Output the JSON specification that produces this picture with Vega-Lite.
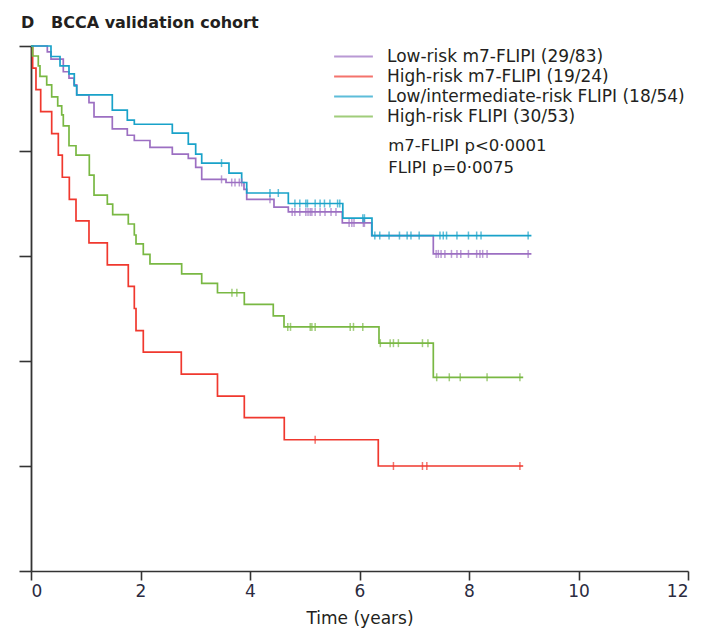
{
  "$schema": "https://vega.github.io/schema/vega-lite/v6.json",
  "width": 657,
  "height": 525,
  "autosize": {"type": "none"},
  "padding": {"left": 31, "top": 46, "right": 15, "bottom": 58},
  "background": "white",
  "title": {
    "text": "D\u00a0\u00a0\u00a0BCCA validation cohort",
    "anchor": "start",
    "frame": "group",
    "dx": -10,
    "offset": -1,
    "baseline": "alphabetic",
    "font": "DejaVu Sans",
    "fontSize": 16,
    "fontWeight": "bold",
    "color": "#231f20"
  },
  "config": {
    "view": {"stroke": null},
    "font": "DejaVu Sans"
  },
  "datasets": {
    "curves": [
      {"g": "Low-risk m7-FLIPI (29/83)", "t": 0, "s": 1},
      {"g": "Low-risk m7-FLIPI (29/83)", "t": 0.298, "s": 0.989},
      {"g": "Low-risk m7-FLIPI (29/83)", "t": 0.365, "s": 0.975},
      {"g": "Low-risk m7-FLIPI (29/83)", "t": 0.59, "s": 0.951},
      {"g": "Low-risk m7-FLIPI (29/83)", "t": 0.694, "s": 0.939},
      {"g": "Low-risk m7-FLIPI (29/83)", "t": 0.785, "s": 0.926},
      {"g": "Low-risk m7-FLIPI (29/83)", "t": 0.835, "s": 0.907},
      {"g": "Low-risk m7-FLIPI (29/83)", "t": 1.059, "s": 0.892},
      {"g": "Low-risk m7-FLIPI (29/83)", "t": 1.151, "s": 0.865},
      {"g": "Low-risk m7-FLIPI (29/83)", "t": 1.485, "s": 0.842},
      {"g": "Low-risk m7-FLIPI (29/83)", "t": 1.759, "s": 0.83},
      {"g": "Low-risk m7-FLIPI (29/83)", "t": 1.887, "s": 0.82},
      {"g": "Low-risk m7-FLIPI (29/83)", "t": 2.173, "s": 0.807},
      {"g": "Low-risk m7-FLIPI (29/83)", "t": 2.581, "s": 0.794},
      {"g": "Low-risk m7-FLIPI (29/83)", "t": 2.873, "s": 0.786},
      {"g": "Low-risk m7-FLIPI (29/83)", "t": 3.008, "s": 0.769},
      {"g": "Low-risk m7-FLIPI (29/83)", "t": 3.118, "s": 0.746},
      {"g": "Low-risk m7-FLIPI (29/83)", "t": 3.562, "s": 0.74},
      {"g": "Low-risk m7-FLIPI (29/83)", "t": 3.89, "s": 0.727},
      {"g": "Low-risk m7-FLIPI (29/83)", "t": 3.94, "s": 0.708},
      {"g": "Low-risk m7-FLIPI (29/83)", "t": 4.438, "s": 0.693},
      {"g": "Low-risk m7-FLIPI (29/83)", "t": 4.7, "s": 0.684},
      {"g": "Low-risk m7-FLIPI (29/83)", "t": 5.686, "s": 0.663},
      {"g": "Low-risk m7-FLIPI (29/83)", "t": 6.223, "s": 0.639},
      {"g": "Low-risk m7-FLIPI (29/83)", "t": 7.348, "s": 0.604},
      {"g": "Low-risk m7-FLIPI (29/83)", "t": 9.14, "s": 0.604},
      {"g": "High-risk m7-FLIPI (19/24)", "t": 0, "s": 1},
      {"g": "High-risk m7-FLIPI (19/24)", "t": 0.03, "s": 0.958},
      {"g": "High-risk m7-FLIPI (19/24)", "t": 0.091, "s": 0.917},
      {"g": "High-risk m7-FLIPI (19/24)", "t": 0.177, "s": 0.875},
      {"g": "High-risk m7-FLIPI (19/24)", "t": 0.378, "s": 0.833},
      {"g": "High-risk m7-FLIPI (19/24)", "t": 0.499, "s": 0.792},
      {"g": "High-risk m7-FLIPI (19/24)", "t": 0.572, "s": 0.75},
      {"g": "High-risk m7-FLIPI (19/24)", "t": 0.7, "s": 0.708},
      {"g": "High-risk m7-FLIPI (19/24)", "t": 0.822, "s": 0.667},
      {"g": "High-risk m7-FLIPI (19/24)", "t": 1.059, "s": 0.625},
      {"g": "High-risk m7-FLIPI (19/24)", "t": 1.394, "s": 0.583},
      {"g": "High-risk m7-FLIPI (19/24)", "t": 1.777, "s": 0.542},
      {"g": "High-risk m7-FLIPI (19/24)", "t": 1.887, "s": 0.5},
      {"g": "High-risk m7-FLIPI (19/24)", "t": 1.918, "s": 0.458},
      {"g": "High-risk m7-FLIPI (19/24)", "t": 2.051, "s": 0.417},
      {"g": "High-risk m7-FLIPI (19/24)", "t": 2.745, "s": 0.375},
      {"g": "High-risk m7-FLIPI (19/24)", "t": 3.406, "s": 0.333},
      {"g": "High-risk m7-FLIPI (19/24)", "t": 3.896, "s": 0.292},
      {"g": "High-risk m7-FLIPI (19/24)", "t": 4.626, "s": 0.25},
      {"g": "High-risk m7-FLIPI (19/24)", "t": 6.343, "s": 0.2},
      {"g": "High-risk m7-FLIPI (19/24)", "t": 8.99, "s": 0.2},
      {"g": "High-risk FLIPI (30/53)", "t": 0, "s": 1},
      {"g": "High-risk FLIPI (30/53)", "t": 0.03, "s": 0.981},
      {"g": "High-risk FLIPI (30/53)", "t": 0.133, "s": 0.962},
      {"g": "High-risk FLIPI (30/53)", "t": 0.164, "s": 0.942},
      {"g": "High-risk FLIPI (30/53)", "t": 0.287, "s": 0.926},
      {"g": "High-risk FLIPI (30/53)", "t": 0.378, "s": 0.903},
      {"g": "High-risk FLIPI (30/53)", "t": 0.488, "s": 0.886},
      {"g": "High-risk FLIPI (30/53)", "t": 0.561, "s": 0.869},
      {"g": "High-risk FLIPI (30/53)", "t": 0.59, "s": 0.848},
      {"g": "High-risk FLIPI (30/53)", "t": 0.694, "s": 0.81},
      {"g": "High-risk FLIPI (30/53)", "t": 0.822, "s": 0.792},
      {"g": "High-risk FLIPI (30/53)", "t": 1.065, "s": 0.754},
      {"g": "High-risk FLIPI (30/53)", "t": 1.151, "s": 0.716},
      {"g": "High-risk FLIPI (30/53)", "t": 1.394, "s": 0.699},
      {"g": "High-risk FLIPI (30/53)", "t": 1.492, "s": 0.679},
      {"g": "High-risk FLIPI (30/53)", "t": 1.777, "s": 0.661},
      {"g": "High-risk FLIPI (30/53)", "t": 1.887, "s": 0.64},
      {"g": "High-risk FLIPI (30/53)", "t": 1.918, "s": 0.623},
      {"g": "High-risk FLIPI (30/53)", "t": 2.051, "s": 0.603},
      {"g": "High-risk FLIPI (30/53)", "t": 2.173, "s": 0.585},
      {"g": "High-risk FLIPI (30/53)", "t": 2.752, "s": 0.566},
      {"g": "High-risk FLIPI (30/53)", "t": 3.118, "s": 0.548},
      {"g": "High-risk FLIPI (30/53)", "t": 3.406, "s": 0.53},
      {"g": "High-risk FLIPI (30/53)", "t": 3.896, "s": 0.508},
      {"g": "High-risk FLIPI (30/53)", "t": 4.425, "s": 0.486},
      {"g": "High-risk FLIPI (30/53)", "t": 4.621, "s": 0.465},
      {"g": "High-risk FLIPI (30/53)", "t": 6.356, "s": 0.434},
      {"g": "High-risk FLIPI (30/53)", "t": 7.348, "s": 0.369},
      {"g": "High-risk FLIPI (30/53)", "t": 8.99, "s": 0.369},
      {"g": "Low/intermediate-risk FLIPI (18/54)", "t": 0, "s": 1},
      {"g": "Low/intermediate-risk FLIPI (18/54)", "t": 0.365, "s": 0.98},
      {"g": "Low/intermediate-risk FLIPI (18/54)", "t": 0.53, "s": 0.962},
      {"g": "Low/intermediate-risk FLIPI (18/54)", "t": 0.694, "s": 0.947},
      {"g": "Low/intermediate-risk FLIPI (18/54)", "t": 0.791, "s": 0.924},
      {"g": "Low/intermediate-risk FLIPI (18/54)", "t": 0.835, "s": 0.907},
      {"g": "Low/intermediate-risk FLIPI (18/54)", "t": 1.485, "s": 0.878},
      {"g": "Low/intermediate-risk FLIPI (18/54)", "t": 1.759, "s": 0.859},
      {"g": "Low/intermediate-risk FLIPI (18/54)", "t": 1.887, "s": 0.851},
      {"g": "Low/intermediate-risk FLIPI (18/54)", "t": 2.581, "s": 0.834},
      {"g": "Low/intermediate-risk FLIPI (18/54)", "t": 2.873, "s": 0.813},
      {"g": "Low/intermediate-risk FLIPI (18/54)", "t": 3.008, "s": 0.794},
      {"g": "Low/intermediate-risk FLIPI (18/54)", "t": 3.118, "s": 0.777},
      {"g": "Low/intermediate-risk FLIPI (18/54)", "t": 3.616, "s": 0.758},
      {"g": "Low/intermediate-risk FLIPI (18/54)", "t": 3.848, "s": 0.74},
      {"g": "Low/intermediate-risk FLIPI (18/54)", "t": 3.94, "s": 0.72},
      {"g": "Low/intermediate-risk FLIPI (18/54)", "t": 4.7, "s": 0.7},
      {"g": "Low/intermediate-risk FLIPI (18/54)", "t": 5.695, "s": 0.672},
      {"g": "Low/intermediate-risk FLIPI (18/54)", "t": 6.228, "s": 0.639},
      {"g": "Low/intermediate-risk FLIPI (18/54)", "t": 9.14, "s": 0.639}
    ],
    "censors": [
      {"g": "Low-risk m7-FLIPI (29/83)", "t": 3.48, "s": 0.746},
      {"g": "Low-risk m7-FLIPI (29/83)", "t": 3.666, "s": 0.74},
      {"g": "Low-risk m7-FLIPI (29/83)", "t": 3.726, "s": 0.74},
      {"g": "Low-risk m7-FLIPI (29/83)", "t": 3.805, "s": 0.74},
      {"g": "Low-risk m7-FLIPI (29/83)", "t": 3.849, "s": 0.74},
      {"g": "Low-risk m7-FLIPI (29/83)", "t": 4.365, "s": 0.708},
      {"g": "Low-risk m7-FLIPI (29/83)", "t": 4.77, "s": 0.684},
      {"g": "Low-risk m7-FLIPI (29/83)", "t": 4.82, "s": 0.684},
      {"g": "Low-risk m7-FLIPI (29/83)", "t": 4.91, "s": 0.684},
      {"g": "Low-risk m7-FLIPI (29/83)", "t": 5.02, "s": 0.684},
      {"g": "Low-risk m7-FLIPI (29/83)", "t": 5.06, "s": 0.684},
      {"g": "Low-risk m7-FLIPI (29/83)", "t": 5.1, "s": 0.684},
      {"g": "Low-risk m7-FLIPI (29/83)", "t": 5.13, "s": 0.684},
      {"g": "Low-risk m7-FLIPI (29/83)", "t": 5.19, "s": 0.684},
      {"g": "Low-risk m7-FLIPI (29/83)", "t": 5.28, "s": 0.684},
      {"g": "Low-risk m7-FLIPI (29/83)", "t": 5.37, "s": 0.684},
      {"g": "Low-risk m7-FLIPI (29/83)", "t": 5.48, "s": 0.684},
      {"g": "Low-risk m7-FLIPI (29/83)", "t": 5.57, "s": 0.684},
      {"g": "Low-risk m7-FLIPI (29/83)", "t": 5.81, "s": 0.663},
      {"g": "Low-risk m7-FLIPI (29/83)", "t": 5.86, "s": 0.663},
      {"g": "Low-risk m7-FLIPI (29/83)", "t": 5.9, "s": 0.663},
      {"g": "Low-risk m7-FLIPI (29/83)", "t": 6.07, "s": 0.663},
      {"g": "Low-risk m7-FLIPI (29/83)", "t": 6.09, "s": 0.663},
      {"g": "Low-risk m7-FLIPI (29/83)", "t": 7.4, "s": 0.604},
      {"g": "Low-risk m7-FLIPI (29/83)", "t": 7.44, "s": 0.604},
      {"g": "Low-risk m7-FLIPI (29/83)", "t": 7.49, "s": 0.604},
      {"g": "Low-risk m7-FLIPI (29/83)", "t": 7.56, "s": 0.604},
      {"g": "Low-risk m7-FLIPI (29/83)", "t": 7.68, "s": 0.604},
      {"g": "Low-risk m7-FLIPI (29/83)", "t": 7.78, "s": 0.604},
      {"g": "Low-risk m7-FLIPI (29/83)", "t": 7.85, "s": 0.604},
      {"g": "Low-risk m7-FLIPI (29/83)", "t": 7.99, "s": 0.604},
      {"g": "Low-risk m7-FLIPI (29/83)", "t": 8.14, "s": 0.604},
      {"g": "Low-risk m7-FLIPI (29/83)", "t": 8.2, "s": 0.604},
      {"g": "Low-risk m7-FLIPI (29/83)", "t": 8.25, "s": 0.604},
      {"g": "Low-risk m7-FLIPI (29/83)", "t": 8.33, "s": 0.604},
      {"g": "Low-risk m7-FLIPI (29/83)", "t": 9.08, "s": 0.604},
      {"g": "High-risk m7-FLIPI (19/24)", "t": 5.19, "s": 0.25},
      {"g": "High-risk m7-FLIPI (19/24)", "t": 6.62, "s": 0.2},
      {"g": "High-risk m7-FLIPI (19/24)", "t": 7.15, "s": 0.2},
      {"g": "High-risk m7-FLIPI (19/24)", "t": 7.23, "s": 0.2},
      {"g": "High-risk m7-FLIPI (19/24)", "t": 8.93, "s": 0.2},
      {"g": "High-risk FLIPI (30/53)", "t": 3.67, "s": 0.53},
      {"g": "High-risk FLIPI (30/53)", "t": 3.76, "s": 0.53},
      {"g": "High-risk FLIPI (30/53)", "t": 4.69, "s": 0.465},
      {"g": "High-risk FLIPI (30/53)", "t": 4.74, "s": 0.465},
      {"g": "High-risk FLIPI (30/53)", "t": 5.1, "s": 0.465},
      {"g": "High-risk FLIPI (30/53)", "t": 5.13, "s": 0.465},
      {"g": "High-risk FLIPI (30/53)", "t": 5.19, "s": 0.465},
      {"g": "High-risk FLIPI (30/53)", "t": 5.83, "s": 0.465},
      {"g": "High-risk FLIPI (30/53)", "t": 5.89, "s": 0.465},
      {"g": "High-risk FLIPI (30/53)", "t": 6.06, "s": 0.465},
      {"g": "High-risk FLIPI (30/53)", "t": 6.38, "s": 0.434},
      {"g": "High-risk FLIPI (30/53)", "t": 6.56, "s": 0.434},
      {"g": "High-risk FLIPI (30/53)", "t": 6.62, "s": 0.434},
      {"g": "High-risk FLIPI (30/53)", "t": 6.71, "s": 0.434},
      {"g": "High-risk FLIPI (30/53)", "t": 7.15, "s": 0.434},
      {"g": "High-risk FLIPI (30/53)", "t": 7.25, "s": 0.434},
      {"g": "High-risk FLIPI (30/53)", "t": 7.41, "s": 0.369},
      {"g": "High-risk FLIPI (30/53)", "t": 7.64, "s": 0.369},
      {"g": "High-risk FLIPI (30/53)", "t": 7.84, "s": 0.369},
      {"g": "High-risk FLIPI (30/53)", "t": 8.33, "s": 0.369},
      {"g": "High-risk FLIPI (30/53)", "t": 8.93, "s": 0.369},
      {"g": "Low/intermediate-risk FLIPI (18/54)", "t": 3.48, "s": 0.777},
      {"g": "Low/intermediate-risk FLIPI (18/54)", "t": 4.365, "s": 0.72},
      {"g": "Low/intermediate-risk FLIPI (18/54)", "t": 4.517, "s": 0.72},
      {"g": "Low/intermediate-risk FLIPI (18/54)", "t": 4.82, "s": 0.7},
      {"g": "Low/intermediate-risk FLIPI (18/54)", "t": 4.91, "s": 0.7},
      {"g": "Low/intermediate-risk FLIPI (18/54)", "t": 5.02, "s": 0.7},
      {"g": "Low/intermediate-risk FLIPI (18/54)", "t": 5.05, "s": 0.7},
      {"g": "Low/intermediate-risk FLIPI (18/54)", "t": 5.19, "s": 0.7},
      {"g": "Low/intermediate-risk FLIPI (18/54)", "t": 5.28, "s": 0.7},
      {"g": "Low/intermediate-risk FLIPI (18/54)", "t": 5.36, "s": 0.7},
      {"g": "Low/intermediate-risk FLIPI (18/54)", "t": 5.46, "s": 0.7},
      {"g": "Low/intermediate-risk FLIPI (18/54)", "t": 5.6, "s": 0.7},
      {"g": "Low/intermediate-risk FLIPI (18/54)", "t": 5.64, "s": 0.7},
      {"g": "Low/intermediate-risk FLIPI (18/54)", "t": 6.06, "s": 0.672},
      {"g": "Low/intermediate-risk FLIPI (18/54)", "t": 6.09, "s": 0.672},
      {"g": "Low/intermediate-risk FLIPI (18/54)", "t": 6.28, "s": 0.639},
      {"g": "Low/intermediate-risk FLIPI (18/54)", "t": 6.37, "s": 0.639},
      {"g": "Low/intermediate-risk FLIPI (18/54)", "t": 6.54, "s": 0.639},
      {"g": "Low/intermediate-risk FLIPI (18/54)", "t": 6.73, "s": 0.639},
      {"g": "Low/intermediate-risk FLIPI (18/54)", "t": 6.87, "s": 0.639},
      {"g": "Low/intermediate-risk FLIPI (18/54)", "t": 6.94, "s": 0.639},
      {"g": "Low/intermediate-risk FLIPI (18/54)", "t": 7.09, "s": 0.639},
      {"g": "Low/intermediate-risk FLIPI (18/54)", "t": 7.47, "s": 0.639},
      {"g": "Low/intermediate-risk FLIPI (18/54)", "t": 7.53, "s": 0.639},
      {"g": "Low/intermediate-risk FLIPI (18/54)", "t": 7.59, "s": 0.639},
      {"g": "Low/intermediate-risk FLIPI (18/54)", "t": 7.78, "s": 0.639},
      {"g": "Low/intermediate-risk FLIPI (18/54)", "t": 7.99, "s": 0.639},
      {"g": "Low/intermediate-risk FLIPI (18/54)", "t": 8.14, "s": 0.639},
      {"g": "Low/intermediate-risk FLIPI (18/54)", "t": 8.22, "s": 0.639},
      {"g": "Low/intermediate-risk FLIPI (18/54)", "t": 9.08, "s": 0.639}
    ],
    "notes": [
      {"label": "m7-FLIPI p<0·0001\nFLIPI p=0·0075"}
    ]
  },
  "layer": [
    {
      "data": {"name": "curves"},
      "mark": {"type": "line", "interpolate": "step-after", "strokeWidth": 1.7},
      "encoding": {
        "x": {
          "field": "t", "type": "quantitative",
          "scale": {"domain": [0, 12], "nice": false, "zero": false},
          "axis": {
            "title": "Time (years)", "values": [0, 2, 4, 6, 8, 10, 12], "format": "d",
            "grid": false, "domainColor": "#333333", "domainWidth": 1.6,
            "tickColor": "#333333", "tickWidth": 1.6, "tickSize": 9,
            "labelFont": "DejaVu Sans", "labelFontSize": 17, "labelColor": "#2b2b3f", "labelPadding": 3,
            "titleFont": "DejaVu Sans", "titleFontSize": 17, "titleFontWeight": "normal", "titleColor": "#231f20", "titlePadding": 11
          }
        },
        "y": {
          "field": "s", "type": "quantitative",
          "scale": {"domain": [0, 1], "nice": false},
          "axis": {
            "title": null, "values": [0, 0.2, 0.4, 0.6, 0.8, 1.0], "labels": false,
            "grid": false, "domainColor": "#333333", "domainWidth": 1.8,
            "tickColor": "#333333", "tickWidth": 1.6, "tickSize": 12
          }
        },
        "color": {
          "field": "g", "type": "nominal",
          "scale": {
            "domain": ["Low-risk m7-FLIPI (29/83)", "High-risk m7-FLIPI (19/24)", "Low/intermediate-risk FLIPI (18/54)", "High-risk FLIPI (30/53)"],
            "range": ["#9c6fc2", "#f0382e", "#19a2c9", "#79b843"]
          },
          "legend": {
            "title": null, "orient": "none", "legendX": 314, "legendY": 2,
            "symbolType": "M-4,0H4", "symbolSize": 94, "symbolStrokeWidth": 2,
            "symbolFillColor": "transparent",
            "labelFont": "DejaVu Sans", "labelFontSize": 17, "labelColor": "#231f20", "labelLimit": 400,
            "labelOffset": 25, "rowPadding": 2, "padding": 0
          }
        }
      }
    },
    {
      "data": {"name": "censors"},
      "mark": {"type": "tick", "orient": "vertical", "size": 8, "thickness": 1.5},
      "encoding": {
        "x": {"field": "t", "type": "quantitative"},
        "y": {"field": "s", "type": "quantitative"},
        "color": {"field": "g", "type": "nominal"}
      }
    },
    {
      "data": {"name": "notes"},
      "mark": {"type": "text", "align": "left", "baseline": "alphabetic", "font": "DejaVu Sans", "fontSize": 16.5, "lineHeight": 22, "lineBreak": "\n", "color": "#231f20"},
      "encoding": {
        "x": {"datum": 6.526},
        "y": {"datum": 0.8},
        "text": {"field": "label"}
      }
    }
  ]
}
